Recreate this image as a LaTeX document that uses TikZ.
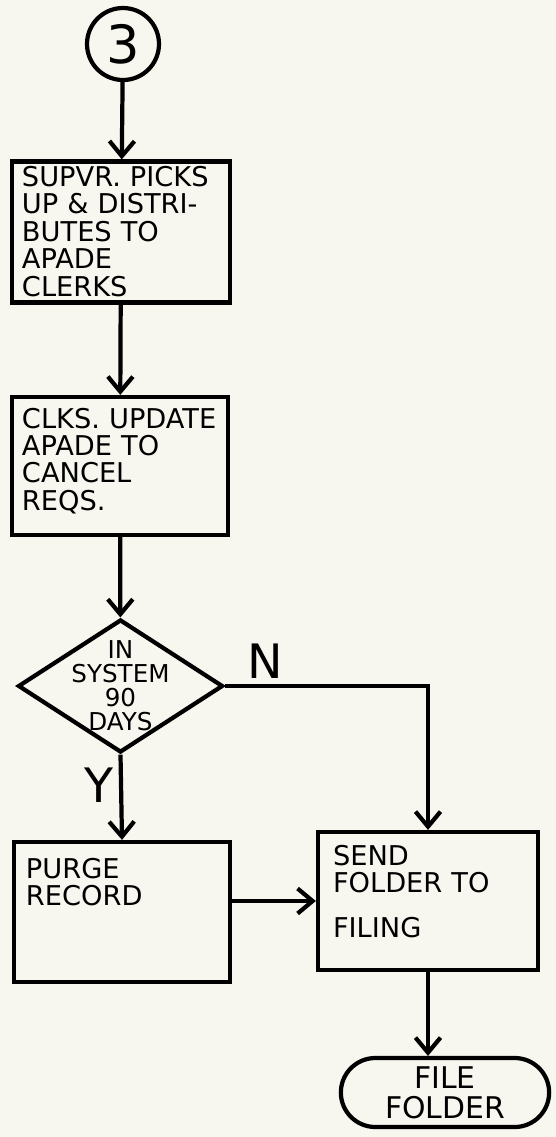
\documentclass[tikz,border=0pt]{standalone}
\usepackage{fontspec}
\setmainfont{DejaVu Sans}
\usetikzlibrary{arrows.meta,shapes.geometric,shapes.misc}
\definecolor{paper}{RGB}{248,247,239}
\hyphenpenalty=10000

\begin{document}
\begin{tikzpicture}[
    box/.style={draw, line width=2.4pt, align=left, inner xsep=0.2cm, inner ysep=0pt, text height=0.62cm, font=\fontsize{15.5}{15.6}\selectfont},
    dec/.style={draw, diamond, aspect=1.54, line width=2.4pt, minimum width=4.1cm, minimum height=2.66cm, inner sep=-6pt, align=center, font=\fontsize{14}{13.6}\selectfont},
    endbox/.style={draw, rounded rectangle, line width=2.4pt, minimum width=4.4cm, minimum height=1.38cm, align=center, font=\fontsize{17}{17}\selectfont},
    conn/.style={draw, circle, line width=2.4pt, minimum size=1.44cm, inner sep=0pt, font=\fontsize{30}{30}\selectfont},
    arr/.style={-{Straight Barb[length=3mm, width=5mm]}, line width=2.4pt},
    lbl/.style={font=\fontsize{27}{27}\selectfont, inner sep=3pt}
]
\useasboundingbox[fill=paper] (0,0) rectangle (11.12,-22.74);

\node[conn] (three) at (2.46,-0.88) {3};
\node[box, text width=3.96cm, text height=0.5cm, text depth=2.32cm] (supvr) at (2.42,-4.64)
    {SUPVR. PICKS\\UP \& DISTRI-\\BUTES TO\\APADE\\CLERKS};
\node[box, text width=3.92cm, text depth=2.14cm] (upd) at (2.40,-9.32)
    {CLKS. UPDATE\\APADE TO\\CANCEL\\REQS.};
\node[dec] (days) at (2.41,-13.72) {IN\\SYSTEM\\90\\DAYS};
\node[box, text width=3.84cm, inner xsep=0.24cm, text height=0.72cm, text depth=2.08cm] (purge) at (2.44,-18.24)
    {PURGE\\RECORD};
\node[box, text width=3.8cm, inner xsep=0.3cm, text height=0.66cm, text depth=2.10cm] (send) at (8.56,-18.02)
    {SEND\\FOLDER TO\\[0.35cm]FILING};
\node[endbox] (file) at (8.9,-21.85) {FILE\\FOLDER};

\draw[arr] (three) -- (supvr);
\draw[arr] (supvr) -- (upd);
\draw[arr] (upd) -- (days);
\draw[arr] (days.south) -- node[lbl, left, pos=0.36] {Y} (purge.north);
\draw[arr] (days.east) -| node[lbl, above, pos=0.1] {N} (send.north);
\draw[arr] (purge.east |- send.west) -- (send.west);
\draw[arr] (send.south) -- (send.south |- file.north);
\end{tikzpicture}
\end{document}
